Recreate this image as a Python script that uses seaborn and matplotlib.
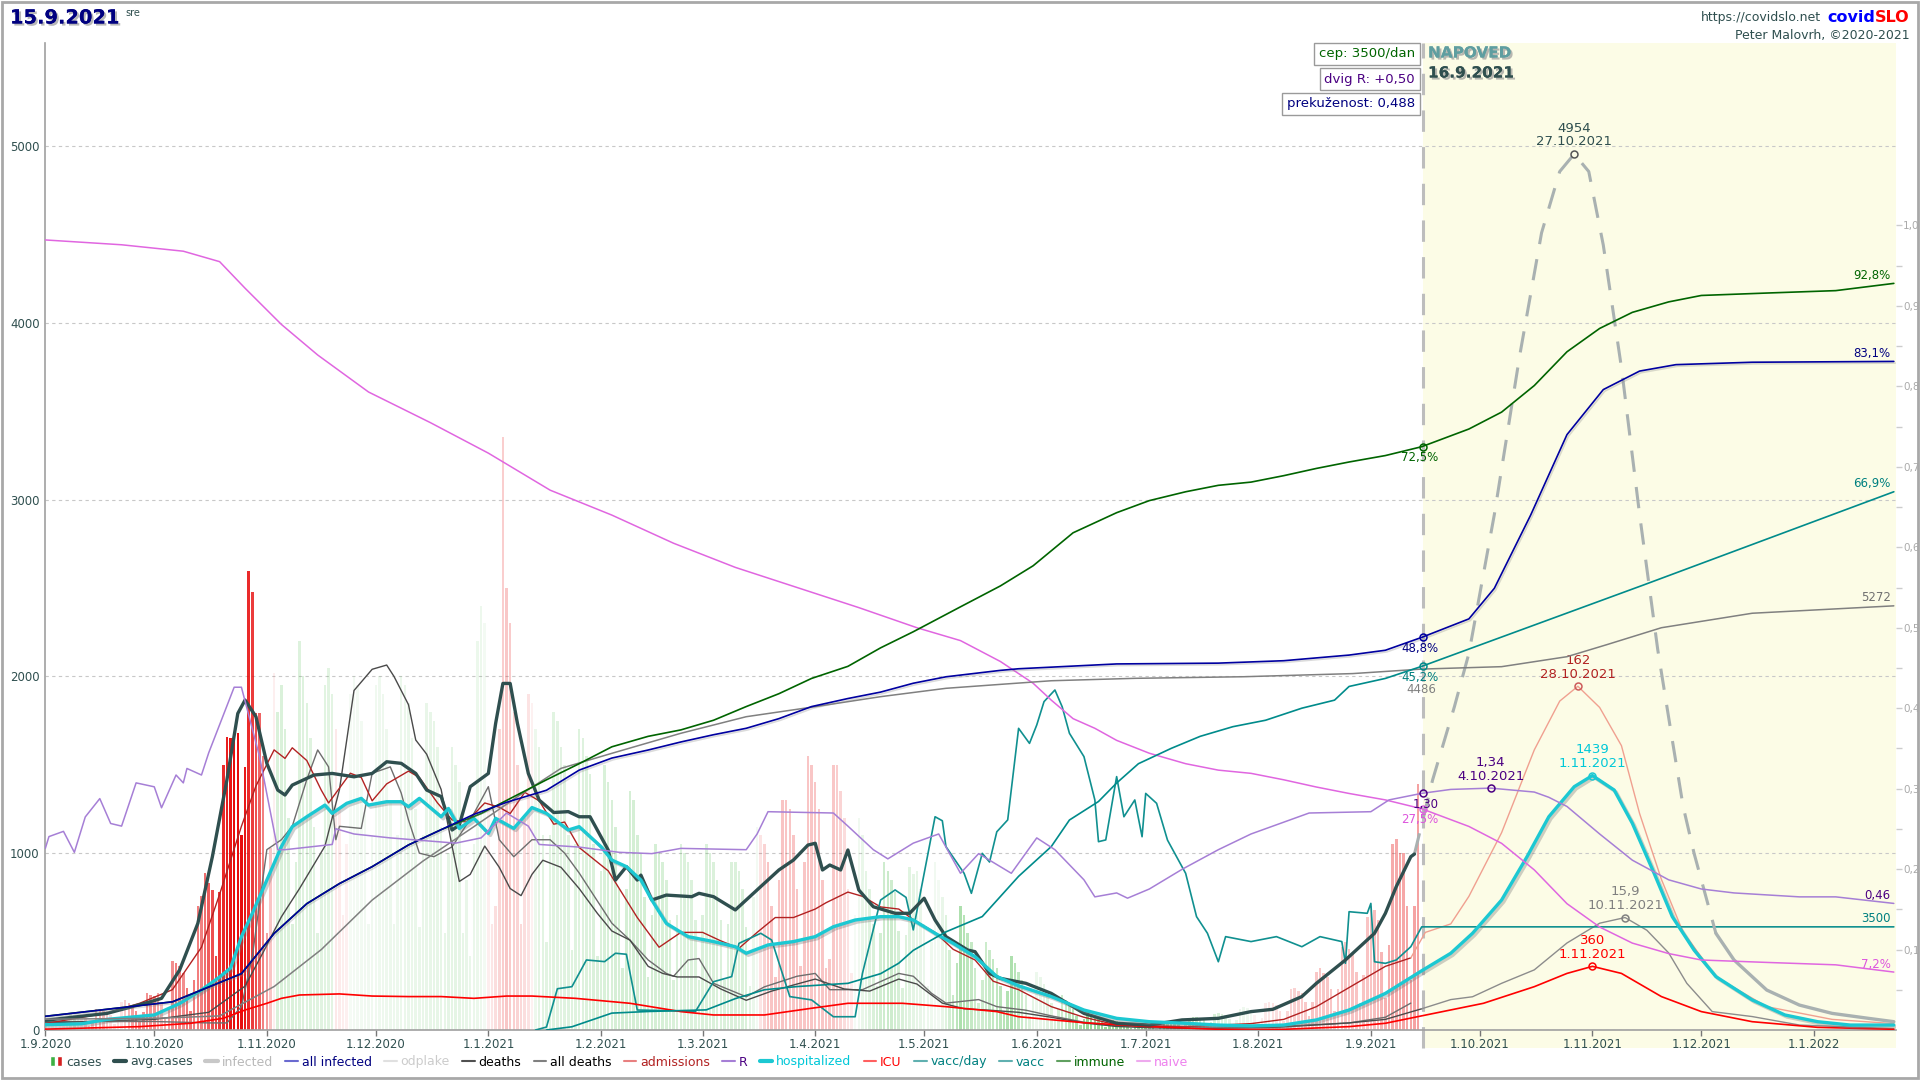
import numpy as np
import pandas as pd
import seaborn as sns
import matplotlib.pyplot as plt
import matplotlib.dates as mdates
import matplotlib.patheffects as pe
from matplotlib.lines import Line2D
from matplotlib.patches import Patch, Rectangle
from matplotlib.legend_handler import HandlerTuple

# day offsets are counted from 1.9.2020
day0 = pd.Timestamp("2020-09-01")
T0 = 379.3      # 15.9.2021 - start of the forecast
DEND = 509.6
YMAX = 5582
FRAC = 4550     # left axis units that equal 100 % on the right axis
R_OFF, R_K = 375, 741   # R is drawn as R_OFF + R_K * R

# ---- daily cases ----
cases_sep20 = [60, 65, 60, 55, 45, 20, 35, 90, 85, 80, 75, 60, 25, 50, 120, 115, 110, 105, 85, 35, 70,
               160, 170, 150, 140, 110, 50, 100, 210, 200]
cases_oct20 = [190, 210, 150, 60, 120, 390, 380, 360, 320, 240, 110, 280, 700, 760, 886, 830, 790, 420, 780,
               1500, 1655, 1650, 1670, 1678, 1103, 1490, 2597, 2479, 1790, 1790, 1550]
cases_nov20 = [547, 1028, 2017, 1800, 1950, 1700, 1200, 600, 950, 2200, 2000, 1850, 1650, 1150,
               550, 1000, 1950, 2050, 1900, 1700, 1250, 650, 1050, 1900, 2000, 1950, 1750, 1300, 600, 1100]
cases_dec20 = [1950, 2000, 1900, 1700, 1300, 600, 1100, 2000, 1950, 1850, 1650, 1250, 580, 1100,
               1850, 1800, 1750, 1600, 1150, 550, 1000, 1600, 1500, 1400, 550, 850, 420, 1050, 2200, 2400, 2300]
cases_jan21 = [1300, 600, 700, 1700, 3352, 2500, 2300, 1800, 1500, 600, 1200, 1900, 1850, 1700,
               1600, 1100, 500, 1100, 1800, 1750, 1600, 1500, 1100, 450, 1050, 1700, 1650, 1550, 1450, 1050, 420]
cases_feb21 = [900, 1500, 1400, 1300, 1150, 800, 350, 800, 1350, 1300, 1100, 1000, 750, 300,
               650, 1050, 1000, 950, 850, 620, 280, 650, 1050, 1000, 950, 850, 620, 280]
cases_mar21 = [650, 1050, 1000, 950, 850, 620, 280, 600, 950, 950, 900, 800, 580, 250,
               750, 1150, 1100, 1050, 950, 700, 300, 850, 1300, 1300, 1250, 1100, 800, 360, 950, 1550, 1500]
cases_apr21 = [1400, 1250, 850, 350, 400, 1500, 1500, 1350, 1200, 800, 320, 650, 1200, 1100,
               900, 800, 600, 250, 550, 950, 900, 850, 780, 560, 240, 540, 920, 880, 900, 800]
cases_may21 = [600, 250, 500, 950, 850, 750, 650, 450, 200, 380, 700, 650, 550, 500,
               350, 150, 280, 500, 450, 400, 350, 250, 100, 220, 420, 380, 330, 280, 200, 80, 180]
cases_jun21 = [330, 300, 260, 220, 150, 60, 120, 200, 170, 140, 120, 80, 30, 60,
               100, 90, 75, 65, 45, 15, 30, 55, 50, 45, 40, 25, 10, 20, 40, 35]
cases_jul21 = [35, 30, 20, 8, 20, 45, 50, 55, 50, 40, 15, 35, 70, 75, 75, 70, 55, 20, 45, 90, 95,
               90, 85, 65, 25, 55, 120, 130, 125, 115, 85]
cases_aug21 = [35, 70, 150, 160, 150, 140, 110, 50, 110, 230, 240, 220, 210, 160, 80, 160, 330, 350, 320, 300, 230,
               110, 230, 470, 500, 460, 430, 330, 150, 310, 640]
cases_sep21 = [700, 680, 620, 440, 180, 480, 1050, 1080, 1000, 1000, 700, 280, 700, 1390]

# ---- lines (day offset, value) ----
avg_days = [0, 17, 29, 32, 37, 42, 46, 50, 53, 55, 58, 61, 64, 66, 68, 74, 79, 85, 90, 94, 98, 102, 105, 109, 112,
            114, 117, 122, 124, 126, 128, 130, 133, 136, 140, 144, 147, 150, 155, 157, 160, 163, 164, 167, 171,
            178, 180, 184, 190, 197, 202, 206, 210, 212, 214, 216, 219, 221, 224, 228, 234, 238, 242, 245, 248,
            254, 256, 260, 263, 270, 277, 286, 295, 304, 313, 323, 332, 338, 346, 350, 358, 366, 369, 372, 376, 377]
avg_cases = [55, 94, 160, 179, 340, 603, 980, 1414, 1790, 1866, 1772, 1508, 1357, 1329, 1385, 1442, 1451, 1432,
             1451, 1517, 1508, 1451, 1357, 1320, 1131, 1159, 1376, 1451, 1734, 1960, 1960, 1734, 1451, 1300, 1230,
             1235, 1206, 1206, 1018, 848, 924, 848, 876, 735, 763, 754, 773, 754, 679, 811, 905, 961, 1046, 1056,
             905, 933, 905, 1018, 792, 697, 660, 660, 745, 622, 528, 452, 443, 320, 292, 264, 207, 94, 38, 28, 57,
             66, 104, 117, 189, 264, 396, 547, 660, 811, 980, 995]

fc_days = [377, 382, 388, 392, 399, 406, 412, 417, 421, 425, 429, 434, 439, 444, 448, 451, 454, 457, 460, 465,
           474, 483, 492, 502, 509]
fc_cases = [995, 1414, 1828, 2130, 2915, 3816, 4508, 4855, 4954, 4855, 4439, 3746, 2915, 2150, 1640, 1263, 999,
            773, 547, 396, 226, 141, 94, 66, 47]

hosp_days = [0, 10, 17, 30, 37, 43, 48, 51, 54, 57, 61, 65, 68, 72, 77, 79, 83, 87, 89, 94, 98, 100, 103, 109,
             111, 114, 118, 122, 124, 129, 134, 138, 144, 147, 153, 156, 160, 164, 167, 171, 177, 184, 190, 193,
             199, 206, 212, 217, 223, 230, 235, 239, 245, 250, 256, 262, 268, 277, 286, 295, 304, 314, 323, 332,
             341, 350, 359, 369, 379, 387, 393, 401, 408, 414, 421, 426, 432, 437, 443, 448, 454, 460, 470, 479,
             488, 497, 509]
hospitalized = [30, 35, 60, 85, 150, 226, 300, 350, 528, 660, 848, 1037, 1150, 1206, 1272, 1225, 1282, 1310,
                1272, 1291, 1291, 1263, 1310, 1206, 1253, 1140, 1197, 1112, 1197, 1140, 1258, 1225, 1131, 1150,
                1037, 961, 924, 848, 735, 603, 528, 500, 471, 434, 481, 500, 528, 584, 622, 641, 641, 622, 547,
                490, 415, 302, 250, 189, 113, 66, 47, 38, 28, 23, 28, 57, 113, 207, 335, 434, 547, 735, 980, 1206,
                1376, 1439, 1357, 1169, 886, 641, 452, 302, 170, 85, 47, 28, 28]

icu_days = [0, 26, 40, 49, 55, 61, 65, 70, 81, 90, 100, 109, 118, 127, 134, 146, 161, 175, 184, 198, 211, 221,
            236, 248, 262, 268, 286, 304, 323, 341, 359, 369, 379, 396, 410, 419, 426, 434, 445, 456, 470, 488, 509]
icu = [5, 19, 38, 66, 113, 151, 179, 198, 204, 192, 189, 189, 179, 192, 192, 179, 151, 104, 85, 85, 123, 151,
       151, 132, 104, 75, 41, 19, 4, 4, 19, 38, 80, 151, 245, 320, 360, 320, 189, 104, 47, 15, 4]

adm_days = [0, 17, 26, 35, 43, 48, 54, 58, 63, 66, 68, 72, 76, 78, 84, 87, 90, 94, 100, 103, 108, 112, 116, 121,
            125, 128, 132, 136, 140, 143, 147, 155, 159, 163, 169, 175, 181, 186, 191, 196, 201, 206, 212, 215,
            221, 225, 230, 235, 239, 245, 250, 256, 261, 268, 277, 286, 295, 314, 332, 341, 350, 359, 369, 376]
admissions = [3, 8, 12.6, 19, 39, 64, 96, 115, 132, 128, 133, 127, 113, 107, 121, 119, 108, 116, 122, 119, 107,
              99, 98, 107, 105, 102, 112, 108, 97, 98, 86, 75, 64, 53, 39, 46, 46, 42, 38.5, 46, 53, 53, 57, 60,
              65, 63, 58, 57, 52, 46, 38, 33, 23, 19, 11, 6, 2.4, 1.6, 3, 5, 11, 20, 30, 34]
admf_days = [376, 380, 387, 392, 401, 410, 417, 422, 428, 434, 439, 445, 451, 460, 474, 492, 509]
admissions_fc = [34, 46, 50, 63, 93, 132, 155, 162, 152, 134, 102, 71, 46, 25, 11, 5, 3]

deaths_days = [0, 30, 45, 55, 60, 65, 70, 77, 81, 85, 90, 94, 96, 100, 102, 105, 109, 112, 114, 117, 121, 125,
               128, 131, 134, 137, 142, 147, 152, 156, 161, 166, 170, 174, 180, 186, 193, 200, 207, 212, 220,
               227, 235, 240, 247, 253, 260, 268, 277, 286, 295, 305, 320, 340, 359, 369, 379, 387, 393, 401,
               410, 419, 428, 435, 441, 447, 452, 459, 470, 483, 509]
deaths = [1.0, 1.5, 2.5, 6.2, 11, 16, 20, 26, 34, 48, 51, 51.6, 50, 46, 41, 39, 34, 26, 21, 22, 26, 23, 20, 19,
          22, 24, 23, 20, 16.5, 14, 12.7, 9, 8, 7.5, 7.5, 5.8, 4.2, 5.5, 6.5, 7.2, 5.8, 5.5, 7.2, 6.5, 3.8, 3,
          2.8, 2.5, 1.8, 1, 0.5, 0.3, 0.2, 0.4, 1, 1.5, 3, 4.3, 4.7, 6.6, 8.5, 12.3, 15.1, 15.9, 14.1, 10.9,
          6.6, 2.6, 1.9, 0.7, 0.2]

alt_days = [0, 30, 45, 50, 54, 57, 61, 65, 68, 72, 75, 78, 80, 81, 87, 90, 95, 98, 100, 103, 107, 112, 118, 122,
            125, 129, 134, 139, 143, 147, 156, 161, 166, 171, 173, 177, 180, 184, 193, 198, 207, 212, 216, 225,
            235, 239, 244, 248, 257, 262, 270, 277, 286, 295, 305, 320, 340, 359, 369, 376]
deaths_alt = [1.2, 1.2, 1.0, 1.0, 3.3, 10.4, 25.5, 26.9, 28.8, 35.4, 39.6, 37.2, 26.9, 28.8, 28.5, 36.3, 37.2,
              33.5, 29.7, 25.0, 24.5, 25.9, 30.6, 34.4, 26.9, 24.5, 26.9, 26.9, 25.0, 22.2, 15.1, 12.7, 9.9, 8.0,
              7.6, 9.9, 10.1, 6.6, 4.7, 6.1, 7.6, 8.0, 5.7, 5.7, 8.0, 7.6, 5.2, 3.8, 4.3, 3.3, 2.8, 2.0, 1.1, 0.6,
              0.5, 0.4, 0.5, 1.0, 1.8, 3.8]

cum_days = [0, 30, 48, 63, 76, 90, 104, 118, 130, 142, 156, 175, 193, 212, 230, 248, 263, 277, 300, 330, 360,
            379, 401, 419, 430, 445, 470, 509]
all_deaths = [134, 145, 175, 540, 1000, 1615, 2100, 2527, 2900, 3252, 3439, 3688, 3894, 4019, 4143, 4247, 4296,
              4341, 4371, 4391, 4430, 4486, 4516, 4640, 4790, 5000, 5180, 5272]

r_days = [0, 1, 5, 8, 11, 15, 18, 21, 25, 30, 32, 36, 38, 39, 43, 45, 52, 54, 59, 64, 66, 79, 80, 85, 95, 104,
          113, 120, 127, 133, 136, 147, 158, 167, 175, 193, 196, 199, 217, 221, 228, 232, 239, 246, 252, 257,
          263, 266, 273, 278, 286, 289, 295, 298, 304, 313, 323, 332, 341, 348, 365, 370, 379, 387, 398, 410,
          414, 419, 428, 437, 447, 456, 465, 483, 493, 509]
r_vals = [0.88, 0.97, 1.01, 0.85, 1.12, 1.26, 1.07, 1.05, 1.38, 1.35, 1.19, 1.44, 1.38, 1.49, 1.44, 1.61, 2.11,
          2.11, 1.58, 0.87, 0.87, 0.91, 1.03, 0.99, 0.96, 0.94, 0.92, 0.96, 1.15, 1.05, 0.91, 0.89, 0.85, 0.84,
          0.88, 0.87, 0.99, 1.16, 1.15, 1.05, 0.87, 0.80, 0.92, 0.99, 0.69, 0.84, 0.74, 0.69, 0.96, 0.87, 0.64,
          0.51, 0.54, 0.50, 0.57, 0.72, 0.87, 0.99, 1.08, 1.15, 1.16, 1.25, 1.30, 1.33, 1.34, 1.31, 1.27, 1.20,
          0.99, 0.79, 0.64, 0.57, 0.54, 0.51, 0.51, 0.46]

vpd_days = [135, 138, 141, 145, 149, 154, 157, 160, 163, 174, 179, 184, 189, 191, 197, 200, 205, 211, 217, 223,
            225, 230, 234, 237, 239, 242, 245, 247, 248, 253, 255, 258, 260, 262, 265, 268, 271, 273, 275, 278,
            280, 282, 286, 289, 290, 292, 295, 297, 300, 302, 303, 306, 309, 314, 317, 320, 323, 325, 332, 339,
            346, 351, 357, 358, 359, 364, 365, 366, 369, 372, 376, 379, 509]
vacc_day = [0, 100, 1400, 1470, 2376, 2320, 2604, 2570, 678, 650, 624, 1638, 1812, 2940, 3282, 3054, 1134, 1020,
            450, 450, 1920, 4410, 4752, 4500, 3396, 5316, 7236, 7100, 6222, 5316, 4638, 5994, 5700, 6726, 7128,
            10236, 9726, 10350, 11142, 11538, 10968, 10068, 9276, 7806, 6390, 6450, 8598, 7236, 7806, 6558, 8028,
            7692, 6444, 5316, 3846, 3282, 2316, 3168, 3000, 3168, 2826, 3168, 3000, 2262, 4014, 3960, 4296, 2316,
            2262, 2376, 2826, 3500, 3500]

vacc_days = [138, 145, 156, 166, 182, 190, 198, 207, 221, 230, 235, 239, 248, 258, 268, 277, 282, 290, 295, 301,
             310, 318, 327, 336, 346, 355, 359, 369, 379, 440, 509]
vacc = [0.0, 0.004, 0.021, 0.023, 0.025, 0.039, 0.050, 0.054, 0.058, 0.070, 0.083, 0.099, 0.122, 0.141, 0.191,
        0.228, 0.261, 0.284, 0.307, 0.331, 0.350, 0.365, 0.377, 0.385, 0.400, 0.410, 0.427, 0.437, 0.452, 0.553,
        0.669]

immune_days = [0, 35, 54, 63, 72, 81, 90, 100, 109, 120, 129, 138, 147, 156, 166, 175, 184, 193, 202, 211, 221,
               230, 239, 252, 263, 272, 283, 295, 304, 314, 323, 332, 341, 350, 359, 369, 379, 392, 401, 410,
               419, 428, 437, 447, 456, 474, 493, 509]
immune = [0.017, 0.035, 0.070, 0.120, 0.157, 0.182, 0.203, 0.230, 0.249, 0.269, 0.290, 0.311, 0.331, 0.352,
          0.365, 0.373, 0.385, 0.402, 0.418, 0.437, 0.452, 0.475, 0.495, 0.526, 0.552, 0.577, 0.618, 0.643,
          0.658, 0.669, 0.677, 0.681, 0.689, 0.698, 0.706, 0.714, 0.725, 0.747, 0.768, 0.801, 0.843, 0.872,
          0.892, 0.905, 0.913, 0.916, 0.919, 0.928]

ainf_days = [0, 35, 54, 63, 72, 81, 90, 100, 109, 118, 127, 138, 147, 156, 166, 175, 184, 193, 202, 211, 221,
             230, 239, 248, 263, 268, 295, 323, 341, 359, 369, 379, 392, 399, 409, 419, 429, 439, 449, 470, 509]
all_infected = [0.017, 0.035, 0.070, 0.120, 0.157, 0.182, 0.203, 0.230, 0.249, 0.268, 0.283, 0.298, 0.323,
                0.338, 0.348, 0.358, 0.367, 0.375, 0.387, 0.402, 0.412, 0.420, 0.431, 0.439, 0.447, 0.449,
                0.455, 0.456, 0.459, 0.466, 0.472, 0.488, 0.511, 0.549, 0.640, 0.740, 0.796, 0.819, 0.827,
                0.830, 0.831]

naive_days = [0, 21, 38, 48, 55, 65, 75, 89, 106, 122, 139, 156, 173, 190, 207, 224, 240, 252, 263, 272, 277,
              283, 289, 295, 304, 314, 323, 332, 341, 350, 359, 369, 379, 392, 401, 410, 419, 428, 437, 447, 456,
              474, 493, 509]
naive = [0.982, 0.976, 0.968, 0.955, 0.922, 0.877, 0.839, 0.793, 0.755, 0.717, 0.671, 0.640, 0.605, 0.575,
         0.550, 0.525, 0.500, 0.484, 0.458, 0.431, 0.410, 0.387, 0.375, 0.360, 0.344, 0.331, 0.323, 0.319,
         0.311, 0.302, 0.294, 0.286, 0.275, 0.253, 0.232, 0.199, 0.157, 0.128, 0.108, 0.095, 0.087, 0.084,
         0.081, 0.072]


def X(d):
    return mdates.date2num(day0 + pd.to_timedelta(np.asarray(d, float), unit="D"))


def draw(axis, days, vals, color, lw=1.0, scale=1.0, z=3, lo=None, hi=None, **kw):
    d = np.asarray(days, float)
    v = np.asarray(vals, float) * scale
    m = np.ones(len(d), bool)
    if lo is not None:
        m &= d >= lo
    if hi is not None:
        m &= d <= hi
    sns.lineplot(x=day0 + pd.to_timedelta(d[m], unit="D"), y=v[m], ax=axis, color=color,
                 linewidth=lw, legend=False, zorder=z, **kw)


sns.set_theme(style="white")
plt.rcParams["font.family"] = ["DejaVu Sans"]

fig = plt.figure(figsize=(19.2, 10.8), dpi=100)
ax = fig.add_axes([0.0236, 0.0463, 0.9639, 0.9139])
ax_r = ax.twinx()
ax_R = ax.twinx()

# forecast background and divider
ax.axvspan(X(T0), X(DEND), ymin=-0.018, ymax=1, color="#fcfce6", zorder=0.1, clip_on=False, lw=0)
ax.axvline(X(T0), ymin=-0.018, ymax=1, color="#bdbdbd", lw=2.2, linestyle=(0, (7, 5)), zorder=2, clip_on=False)

# bars of daily cases, shaded red / green by the reproduction number of that day
cases = np.array(cases_sep20 + cases_oct20 + cases_nov20 + cases_dec20 + cases_jan21 + cases_feb21 +
                 cases_mar21 + cases_apr21 + cases_may21 + cases_jun21 + cases_jul21 + cases_aug21 +
                 cases_sep21, float)
case_days = np.arange(len(cases))
r_of_day = np.log2(np.interp(case_days, r_days, r_vals))
bar_cols = []
for q in r_of_day:
    if q >= 0:
        bar_cols.append((0.90, 0.0, 0.0, float(min(0.95, 0.05 + 0.85 * q))))
    else:
        bar_cols.append((0.25, 0.72, 0.25, float(min(0.55, 0.05 + 0.7 * -q))))
ax.bar(X(case_days), cases, width=0.7, color=bar_cols, zorder=1, lw=0)

hosp_fx = [pe.SimpleLineShadow(offset=(1.5, -1.5), shadow_color="#777777", alpha=0.35), pe.Normal()]

# lines on the main (cases) scale
draw(ax, alt_days, deaths_alt, "#6e6e6e", lw=1.0, scale=40, z=3)
draw(ax, deaths_days, deaths, "#4a4a4a", lw=1.0, scale=40, z=3, hi=T0 + 1)
draw(ax, deaths_days, deaths, "#8c8c8c", lw=1.0, scale=40, z=3, lo=T0 - 1)
draw(ax, adm_days, admissions, "#b22222", lw=1.0, scale=12, z=3)
draw(ax, admf_days, admissions_fc, "#f0a090", lw=1.0, scale=12, z=3)
draw(ax, icu_days, icu, "#ff0000", lw=1.2, z=4)
draw(ax, vpd_days, vacc_day, "#109090", lw=1.2, scale=1 / 6, z=3)
draw(ax, fc_days, fc_cases, "#a9b1b1", lw=2.2, z=3, hi=460, linestyle=(0, (7, 5)))
draw(ax, fc_days, fc_cases, "#a9b1b1", lw=2.4, z=3, lo=460)
draw(ax, avg_days, avg_cases, "#2f4f4f", lw=2.4, z=5)
draw(ax, hosp_days, hospitalized, "#1cc8d2", lw=2.4, z=6, path_effects=hosp_fx)

# shares on the right axis
shade_fx = [pe.SimpleLineShadow(offset=(1, -1.2), shadow_color="#888888", alpha=0.3), pe.Normal()]
draw(ax_r, naive_days, naive, "#e066e0", lw=1.1)
draw(ax_r, cum_days, all_deaths, "#808080", lw=1.1, scale=1 / 10000)
draw(ax_r, vacc_days, vacc, "#008b8b", lw=1.2)
draw(ax_r, immune_days, immune, "#006400", lw=1.2)
draw(ax_r, ainf_days, all_infected, "#0000a0", lw=1.2, path_effects=shade_fx)

# R on its own hidden scale
draw(ax_R, r_days, r_vals, "#a67fd6", lw=1.1)

ax.set_xlim(X(0), X(DEND))
ax.set_ylim(0, YMAX)
ax_r.set_ylim(0, YMAX / FRAC)
ax_R.set_ylim((0 - R_OFF) / R_K, (YMAX - R_OFF) / R_K)
ax_R.set_axis_off()

# axes styling
months = pd.date_range("2020-09-01", "2022-01-01", freq="MS")
ax.set_xticks(mdates.date2num(months))
ax.set_xticklabels([f"{m.day}.{m.month}.{m.year}" for m in months])
ax.tick_params(axis="x", bottom=True, length=4, width=1, color="#777777", labelsize=8.5,
               labelcolor="#2f4f4f", pad=2)
ax.set_yticks([0, 1000, 2000, 3000, 4000, 5000])
ax.tick_params(axis="y", left=False, length=0, labelsize=8.5, labelcolor="#2f4f4f", pad=4)
ax.yaxis.grid(True, color="#c8c8c8", linestyle=(0, (3, 3)), lw=0.8)
ax.xaxis.grid(False)
ax.set_axisbelow(True)
for s in ["top", "right"]:
    ax.spines[s].set_visible(False)
for s in ["left", "bottom"]:
    ax.spines[s].set_color("#a0a0a0")
    ax.spines[s].set_linewidth(1.2)
ax.set_xlabel("")
ax.set_ylabel("")

for s in ax_r.spines.values():
    s.set_visible(False)
rt = [round(0.1 * i, 1) for i in range(1, 11)]
ax_r.set_yticks(rt)
ax_r.set_yticklabels([f"{v:.1f}".replace(".", ",") for v in rt])
ax_r.set_yticks([0.05 + 0.1 * i for i in range(10)], minor=True)
ax_r.tick_params(axis="y", which="both", right=True, length=4, width=1, color="#cccccc", labelsize=7.5,
                 labelcolor="#aaaaaa", pad=1)
ax_r.grid(False)
ax_r.set_ylabel("")

# point labels
lab_fs = 9.5


def mark(axis, d, y, color, edge=None):
    axis.plot(X(d), y, "o", ms=5, mfc="none", mec=edge or color, mew=1.1, zorder=8)


def note(axis, d, y, text, color, dx=0, dy=4, ha="center", va="bottom", fs=lab_fs):
    axis.annotate(text, xy=(X(d), y), xytext=(dx, dy), textcoords="offset points", ha=ha, va=va,
                  color=color, fontsize=fs, linespacing=1.05, zorder=9)


mark(ax, 421, 4954, "#555555")
note(ax, 421, 4954, "4954\n27.10.2021", "#2f4f4f")
mark(ax, 422, 162 * 12, "#cd5c5c")
note(ax, 422, 162 * 12, "162\n28.10.2021", "#b22222")
mark(ax, 426, 1439, "#1cc8d2")
note(ax, 426, 1439, "1439\n1.11.2021", "#00c8d8")
mark(ax, 435, 15.9 * 40, "#808080")
note(ax, 435, 15.9 * 40, "15,9\n10.11.2021", "#808080")
mark(ax, 426, 360, "#ff0000")
note(ax, 426, 360, "360\n1.11.2021", "#ff0000")
mark(ax_R, 398, 1.34, "#4b0082")
note(ax_R, 398, 1.34, "1,34\n4.10.2021", "#4b0082")

# values at the start of the forecast
mark(ax_r, T0, 0.488, "#0000a0")
note(ax_r, T0, 0.488, "48,8%", "#000080", dx=-2, dy=-3, va="top", fs=8.5)
mark(ax_r, T0, 0.452, "#008b8b")
note(ax_r, T0, 0.452, "45,2%", "#008080", dx=-2, dy=-3, va="top", fs=8.5)
note(ax_r, T0, 0.4486, "4486", "#808080", dx=-1, dy=-10, va="top", fs=8.5)
mark(ax_r, T0, 0.725, "#006400")
note(ax_r, T0, 0.725, "72,5%", "#006400", dx=-2, dy=-3, va="top", fs=8.5)
mark(ax_R, T0, 1.30, "#4b0082")
note(ax_R, T0, 1.30, "1,30", "#4b0082", dx=2, dy=-3, va="top", fs=8.5)
mark(ax_r, T0, 0.275, "#e066e0")
note(ax_r, T0, 0.275, "27,5%", "#dd55dd", dx=-2, dy=-3, va="top", fs=8.5)

# values at the end of the forecast
note(ax_r, DEND - 1.5, 0.928, "92,8%", "#006400", dy=1, ha="right", fs=8.5)
note(ax_r, DEND - 1.5, 0.831, "83,1%", "#000080", dy=1, ha="right", fs=8.5)
note(ax_r, DEND - 1.5, 0.669, "66,9%", "#008080", dy=1, ha="right", fs=8.5)
note(ax_r, DEND - 1.5, 0.5272, "5272", "#707070", dy=1, ha="right", fs=8.5)
note(ax_R, DEND - 1.5, 0.46, "0,46", "#4b0082", dy=1, ha="right", fs=8.5)
note(ax, DEND - 1.5, 3500 / 6, "3500", "#008080", dy=1, ha="right", fs=8.5)
note(ax_r, DEND - 1.5, 0.072, "7,2%", "#dd55dd", dy=1, ha="right", fs=8.5)

# header texts
shadow = [pe.withSimplePatchShadow(offset=(1.5, -1.5), shadow_rgbFace="#9a9a9a", alpha=0.7), pe.Normal()]
renderer = fig.canvas.get_renderer()
t_title = fig.text(10 / 1920, 1 - 18 / 1080, "15.9.2021", fontsize=14, fontweight="bold", color="#000080",
                   va="center", ha="left", path_effects=shadow)
x_t = t_title.get_window_extent(renderer).x1 / 1920
fig.text(x_t + 6 / 1920, 1 - 13 / 1080, "sre", fontsize=7, color="#2f4f4f", va="center", ha="left")

t_slo = fig.text(1910 / 1920, 1 - 17 / 1080, "SLO", fontsize=11.5, fontweight="bold", color="#ff0000",
                 ha="right", va="center")
x_slo = t_slo.get_window_extent(renderer).x0 / 1920
t_cov = fig.text(x_slo, 1 - 17 / 1080, "covid", fontsize=11.5, fontweight="bold", color="#0000ff",
                 ha="right", va="center")
x_cov = t_cov.get_window_extent(renderer).x0 / 1920
fig.text(x_cov - 6 / 1920, 1 - 17 / 1080, "https://covidslo.net", fontsize=9, color="#2f4f4f",
         ha="right", va="center")
fig.text(1910 / 1920, 1 - 35 / 1080, "Peter Malovrh, \u00a92020-2021", fontsize=9, color="#2f4f4f",
         ha="right", va="center")

box = dict(boxstyle="square,pad=0.35", fc="white", ec="#9a9a9a", lw=1)
fig.text(1415 / 1920, 1 - 54 / 1080, "cep: 3500/dan", fontsize=9.5, color="#006400", ha="right",
         va="center", bbox=box)
fig.text(1415 / 1920, 1 - 79 / 1080, "dvig R: +0,50", fontsize=9.5, color="#4b0082", ha="right",
         va="center", bbox=box)
fig.text(1415 / 1920, 1 - 104 / 1080, "preku\u017eenost: 0,488", fontsize=9.5, color="#000080",
         ha="right", va="center", bbox=box)
fig.text(1428 / 1920, 1 - 53 / 1080, "NAPOVED", fontsize=11, fontweight="bold", color="#5f9ea0",
         ha="left", va="center", path_effects=shadow)
fig.text(1428 / 1920, 1 - 73 / 1080, "16.9.2021", fontsize=11, fontweight="bold", color="#2f4f4f",
         ha="left", va="center", path_effects=shadow)

# legend
handles = [
    (Patch(facecolor="#3cb043"), Patch(facecolor="#d42020")),
    Line2D([], [], color="#2f4f4f", lw=3),
    Line2D([], [], color="#c8c8c8", lw=3),
    Line2D([], [], color="#6a6ad0", lw=1.5),
    Line2D([], [], color="#e0e0e0", lw=1.5),
    Line2D([], [], color="#505050", lw=1.5),
    Line2D([], [], color="#808080", lw=1.5),
    Line2D([], [], color="#e88080", lw=1.5),
    Line2D([], [], color="#a67fd6", lw=1.5),
    Line2D([], [], color="#1cc8d2", lw=3),
    Line2D([], [], color="#ff6060", lw=1.5),
    Line2D([], [], color="#60b0b0", lw=1.5),
    Line2D([], [], color="#60b0b0", lw=1.5),
    Line2D([], [], color="#60a060", lw=1.5),
    Line2D([], [], color="#eeaaee", lw=1.5),
]
labels = ["cases", "avg.cases", "infected", "all infected", "odplake", "deaths", "all deaths", "admissions",
          "R", "hospitalized", "ICU", "vacc/day", "vacc", "immune", "naive"]
label_cols = ["#2f4f4f", "#2f4f4f", "#b8b8b8", "#000080", "#cccccc", "#000000", "#000000", "#b22222",
              "#4b0082", "#00c8d8", "#ff0000", "#008080", "#008080", "#006400", "#ee82ee"]
fig.legend(handles=handles, labels=labels, loc="center left", bbox_to_anchor=(0.02, 1 - 1062 / 1080),
           ncol=15, frameon=False, fontsize=9, handlelength=1.0, handleheight=0.8, handletextpad=0.3,
           columnspacing=1.0, labelcolor=label_cols,
           handler_map={tuple: HandlerTuple(ndivide=None, pad=0.1)})

fig.patches.append(Rectangle((0.0008, 0.0015), 0.9984, 0.997, transform=fig.transFigure, fill=False,
                             edgecolor="#a8a8a8", lw=2))

fig.savefig("out.png", dpi=100)
